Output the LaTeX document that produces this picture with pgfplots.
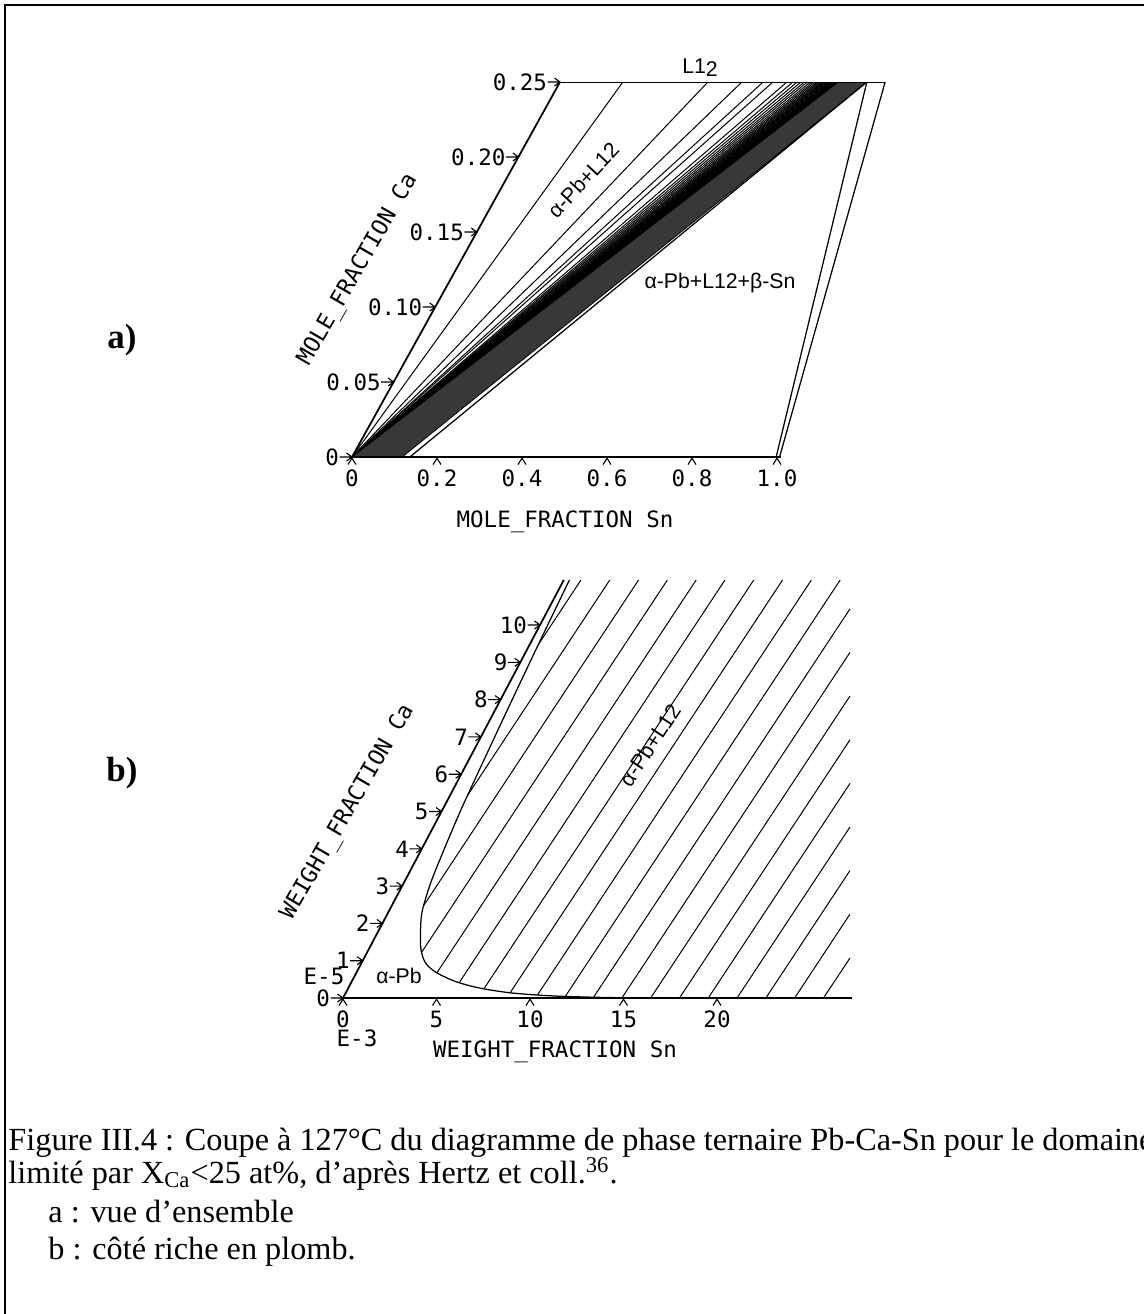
\documentclass[border=0pt]{standalone}
\usepackage{fontspec}
\setmainfont{Liberation Serif}
\newfontfamily\plotfont{DejaVu Sans Mono}
\newfontfamily\labfont{Liberation Sans}
\usepackage{pgfplots}
\pgfplotsset{compat=1.18}

% tick marks of the plotter: arrow on the Ca axis, chevron under the Sn axis
\pgfdeclareplotmark{ychev}{%
  \pgfpathmoveto{\pgfqpoint{-5pt}{0pt}}\pgfpathlineto{\pgfqpoint{0pt}{0pt}}%
  \pgfpathmoveto{\pgfqpoint{-2.2pt}{1.6pt}}\pgfpathlineto{\pgfqpoint{0pt}{0pt}}%
  \pgfpathlineto{\pgfqpoint{-2.2pt}{-1.6pt}}\pgfusepathqstroke}
\pgfdeclareplotmark{xchev}{%
  \pgfpathmoveto{\pgfqpoint{-1.6pt}{-3pt}}\pgfpathlineto{\pgfqpoint{0pt}{-0.5pt}}%
  \pgfpathlineto{\pgfqpoint{1.6pt}{-3pt}}\pgfusepathqstroke}

\pgfplotsset{
  tern/.style={
    anchor=origin,
    axis x line*=bottom, axis y line*=left,
    axis on top,
    major tick length=0pt,
    axis line style={line width=0.7pt},
    tick label style={font=\plotfont\fontsize{9}{10}\selectfont},
    xticklabel style={anchor=north, inner sep=0pt, yshift=-5pt},
    yticklabel style={anchor=east, inner sep=0pt, xshift=-5pt},
  }
}

\begin{document}
\begin{tikzpicture}[x=0.4pt,y=-0.4pt]
\useasboundingbox (0,0) rectangle (1144,1314);
\draw[line width=0.8pt] (5,1340) -- (5,5) -- (1170,5);

% ---------- a) mole fractions
\begin{axis}[tern,
  at={(140.8pt,-182.8pt)},
  x={(170pt,0pt)}, y={(332.8pt,600pt)},
  xmin=0, xmax=1.01, ymin=0, ymax=0.25,
  xtick={0,0.2,0.4,0.6,0.8,1.0},
  xticklabels={0,0.2,0.4,0.6,0.8,1.0},
  ytick={0,0.05,0.10,0.15,0.20,0.25},
  yticklabels={0,0.05,0.10,0.15,0.20,0.25},
]
% tie lines from the Pb corner to L12
\addplot[quiver={u=\thisrow{u},v=\thisrow{v}}, line width=0.4pt] table {
x y u v
0 0 0.148 0.25
0 0 0.348 0.25
0 0 0.428 0.25
0 0 0.478 0.25
0 0 0.501 0.25
0 0 0.534 0.25
0 0 0.548 0.25
0 0 0.558 0.25
0 0 0.567 0.25
0 0 0.575 0.25
0 0 0.582 0.25
0 0 0.589 0.25
0 0 0.595 0.25
0 0 0.600 0.25
0 0 0.605 0.25
0 0 0.609 0.25
0 0 0.613 0.25
0 0 0.617 0.25
0 0 0.620 0.25
0 0 0.623 0.25
0 0 0.626 0.25
0 0 0.629 0.25
0 0 0.632 0.25
0 0 0.635 0.25
0 0 0.637 0.25
0 0 0.640 0.25
0 0 0.642 0.25
0 0 0.644 0.25
0 0 0.646 0.25
0 0 0.648 0.25
0 0 0.650 0.25
0 0 0.652 0.25
0 0 0.654 0.25
};
% dense dark band
\addplot[fill=black!78, draw=black, line width=0.3pt] coordinates {
  (0,0) (0.118,0) (0.722,0.25) (0.655,0.25)} -- cycle;
% three-phase triangle and L12 + beta-Sn
\addplot[black, line width=0.5pt] coordinates {(0.136,0) (0.722,0.25)};
\addplot[black, line width=0.5pt] coordinates {(0.998,0) (0.722,0.25)};
\addplot[black, line width=0.5pt] coordinates {(1.006,0) (0.765,0.25)};
% L12 line
\addplot[black, line width=0.6pt] coordinates {(0,0.25) (0.765,0.25)};
% ticks
\addplot[only marks, mark=xchev, line width=0.45pt] coordinates {
  (0,0) (0.2,0) (0.4,0) (0.6,0) (0.8,0) (1.0,0)};
\addplot[only marks, mark=ychev, line width=0.45pt] coordinates {
  (0,0) (0,0.05) (0,0.10) (0,0.15) (0,0.20) (0,0.25)};
\end{axis}

% ---------- b) weight fractions, Pb-rich corner
\begin{axis}[tern,
  at={(137.2pt,-399.2pt)},
  x={(7.48pt,0pt)}, y={(7.88pt,14.92pt)},
  xmin=0, xmax=27.2, ymin=0, ymax=11.21,
  xtick={0,5,10,15,20},
  xticklabels={0,5,10,15,20},
  ytick={0,1,...,10},
  yticklabels={0,1,2,3,4,5,6,7,8,9,10},
]
% tie lines of alpha-Pb + L12
\addplot[quiver={u=\thisrow{u},v=\thisrow{v}}, line width=0.4pt] table {
x y u v
-2.03 0 2.95 11.21
-0.49 0 2.95 11.21
1.05 0 2.95 11.21
2.59 0 2.95 11.21
4.13 0 2.95 11.21
5.67 0 2.95 11.21
7.21 0 2.95 11.21
8.75 0 2.95 11.21
10.29 0 2.95 11.21
11.83 0 2.95 11.21
13.37 0 2.75 10.434
14.91 0 2.44 9.265
16.45 0 2.13 8.094
17.99 0 1.83 6.925
19.53 0 1.52 5.756
21.07 0 1.21 4.584
22.61 0 0.90 3.416
24.15 0 0.59 2.247
25.69 0 0.29 1.075
};
% alpha-Pb single phase field
\addplot[fill=white, draw=none] coordinates {
  (0,0) (0,11.21) (0.30,11.21) (0.45,9.6) (0.62,8.0) (0.80,6.5) (1.00,5.0)
  (1.25,3.8) (1.45,3.05) (1.80,2.3) (2.3,1.75) (2.8,1.3) (3.4,0.95)
  (4.2,0.70) (5.5,0.45) (7.0,0.27) (8.8,0.14) (11.0,0.06) (13.5,0.02)
  (16.0,0)} -- cycle;
\addplot[black, line width=0.5pt, smooth] coordinates {
  (0.30,11.21) (0.45,9.6) (0.62,8.0) (0.80,6.5) (1.00,5.0)
  (1.25,3.8) (1.45,3.05) (1.80,2.3) (2.3,1.75) (2.8,1.3) (3.4,0.95)
  (4.2,0.70) (5.5,0.45) (7.0,0.27) (8.8,0.14) (11.0,0.06) (13.5,0.02)
  (16.0,0)};
\addplot[only marks, mark=xchev, line width=0.45pt] coordinates {
  (0,0) (5,0) (10,0) (15,0) (20,0)};
\addplot[only marks, mark=ychev, line width=0.45pt] coordinates {
  (0,0) (0,1) (0,2) (0,3) (0,4) (0,5) (0,6) (0,7) (0,8) (0,9) (0,10)};
\end{axis}

% ---------- labels
\begin{scope}[every node/.style={inner sep=0pt}]
\node[font=\plotfont\fontsize{9}{10}\selectfont] at (565,522) {MOLE\_FRACTION Sn};
\node[font=\plotfont\fontsize{9}{10}\selectfont, rotate=60] at (358,270) {MOLE\_FRACTION Ca};
\node[font=\labfont\fontsize{8.5}{10}\selectfont] at (700,68) {L1\raisebox{-0.3ex}{2}};
\node[font=\labfont\fontsize{8.5}{10}\selectfont, rotate=47] at (583,180) {α-Pb+L12};
\node[font=\labfont\fontsize{8.5}{10}\selectfont] at (720,283) {α-Pb+L12+β-Sn};

\node[font=\plotfont\fontsize{9}{10}\selectfont] at (555,1052) {WEIGHT\_FRACTION Sn};
\node[font=\plotfont\fontsize{9}{10}\selectfont, rotate=60] at (348,812) {WEIGHT\_FRACTION Ca};
\node[font=\plotfont\fontsize{9}{10}\selectfont] at (357,1038) {E-3};
\node[font=\plotfont\fontsize{9}{10}\selectfont] at (324,976) {E-5};
\node[font=\labfont\fontsize{8.5}{10}\selectfont] at (399,976) {α-Pb};
\node[font=\labfont\fontsize{8.5}{10}\selectfont, rotate=56.6] at (650,745) {α-Pb+L12};

\node[font=\bfseries\fontsize{14}{16}\selectfont] at (122,340) {a)};
\node[font=\bfseries\fontsize{14}{16}\selectfont] at (122,773) {b)};

\node[anchor=base west, font=\fontsize{12.9}{15}\selectfont] at (8,1150)
  {Figure III.4 : Coupe à 127°C du diagramme de phase ternaire Pb-Ca-Sn pour le domaine};
\node[anchor=base west, font=\fontsize{12.9}{15}\selectfont] at (8,1183)
  {limité par X\textsubscript{Ca}<25 at\%, d’après Hertz et coll.\textsuperscript{36}.};
\node[anchor=base west, font=\fontsize{12.9}{15}\selectfont] at (48,1222)
  {a : vue d’ensemble};
\node[anchor=base west, font=\fontsize{12.9}{15}\selectfont] at (48,1259)
  {b : côté riche en plomb.};
\end{scope}
\end{tikzpicture}
\end{document}
